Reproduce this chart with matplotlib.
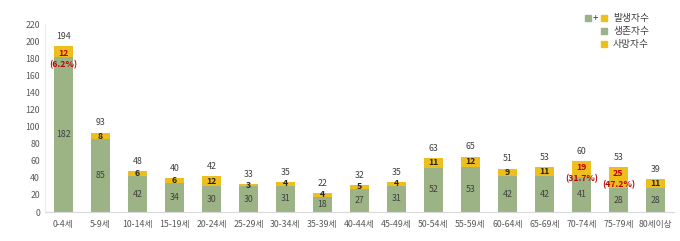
import matplotlib
matplotlib.use("Agg")
from matplotlib import pyplot as plt
from matplotlib.patches import Rectangle

plt.rcParams['font.family'] = ['Noto Sans CJK KR', 'DejaVu Sans']

ages = ['0-4세', '5-9세', '10-14세', '15-19세', '20-24세', '25-29세', '30-34세',
        '35-39세', '40-44세', '45-49세', '50-54세', '55-59세', '60-64세',
        '65-69세', '70-74세', '75-79세', '80세이상']
survived = [182, 85, 42, 34, 30, 30, 31, 18, 27, 31, 52, 53, 42, 42, 41, 28, 28]
deaths = [12, 8, 6, 6, 12, 3, 4, 4, 5, 4, 11, 12, 9, 11, 19, 25, 11]
totals = [194, 93, 48, 40, 42, 33, 35, 22, 32, 35, 63, 65, 51, 53, 60, 53, 39]
pct = {0: '(6.2%)', 14: '(31.7%)', 15: '(47.2%)'}

green = '#9CB385'
yellow = '#EEBE1E'
gray = '#595959'

fig = plt.figure(figsize=(6.8, 2.41), dpi=100)
ax = fig.add_axes([0.066, 0.12, 0.925, 0.78])

x = range(len(ages))
ax.bar(x, survived, width=0.5, color=green)
ax.bar(x, deaths, width=0.5, bottom=survived, color=yellow)

for i in x:
    top = survived[i] + deaths[i]
    ax.annotate(str(totals[i]), (i, top), xytext=(0, 7), textcoords='offset points',
                ha='center', va='center', fontsize=6.3, color='#404040')
    ax.text(i, survived[i] / 2, str(survived[i]), ha='center', va='center',
            fontsize=6.3, color='#404040')
    if i in pct:
        ax.annotate(str(deaths[i]), (i, top), xytext=(0, -5), textcoords='offset points',
                    ha='center', va='center', fontsize=6.3, color='#C00000', fontweight='bold')
        ax.annotate(pct[i], (i, top), xytext=(0, -13), textcoords='offset points',
                    ha='center', va='center', fontsize=6.3, color='#C00000', fontweight='bold')
    else:
        ax.text(i, survived[i] + deaths[i] / 2, str(deaths[i]), ha='center', va='center',
                fontsize=6.3, color='#262626', fontweight='bold')

ax.set_xlim(-0.5, len(ages) - 0.5)
ax.set_ylim(0, 220)
ax.set_yticks(range(0, 221, 20))
ax.set_xticks(list(x))
ax.set_xticklabels(ages)
ax.tick_params(axis='both', length=0, labelsize=6.3, colors=gray)
ax.tick_params(axis='x', pad=6)
for s in ['top', 'right']:
    ax.spines[s].set_visible(False)
ax.spines['left'].set_color('#EBEBEB')
ax.spines['bottom'].set_color('#D9D9D9')

# legend drawn by hand (positions in pixels of the 680x241 figure)
W, H = 680, 241
sq = 6
rows = [([green, yellow], '발생자수'), ([green], '생존자수'), ([yellow], '사망자수')]
for k, (cols, lab) in enumerate(rows):
    yy = 1 - (18 + k * 13) / H
    if len(cols) == 2:
        fig.patches.append(Rectangle((585 / W, yy - sq / 2 / H), sq / W, sq / H,
                                     color=green, transform=fig.transFigure))
        fig.text(595.5 / W, yy, '+', fontsize=7, ha='center', va='center', color='#404040')
    fig.patches.append(Rectangle((601 / W, yy - sq / 2 / H), sq / W, sq / H,
                                 color=cols[-1], transform=fig.transFigure))
    fig.text(613 / W, yy, lab, fontsize=7, ha='left', va='center', color='#404040')

fig.savefig('out.png', dpi=100)
